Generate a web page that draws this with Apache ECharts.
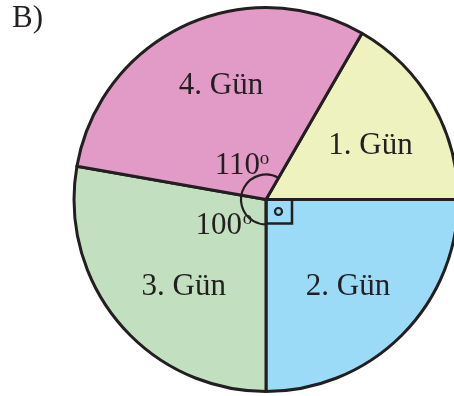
<!DOCTYPE html>
<html>
<head>
<meta charset="utf-8" />
<script src="https://cdn.jsdelivr.net/npm/echarts@6/dist/echarts.min.js" type="text/javascript" charset="utf-8"></script>
<title>B)</title>
<style>html,body{margin:0;padding:0;background:#fff;}</style>
</head>
<body>
<div id="main" style="width:454px;height:396px;"></div>
<script type="text/javascript">
// dilimler (derece)
var days = ['1. Gün', '2. Gün', '3. Gün', '4. Gün'];
var angles = [60, 90, 100, 110];
// merkezde yazan açılar
var angleTexts = ['110', '100'];

var colors = ['#EEF2BE', '#9BDBF7', '#C2E0BF', '#E29BC6'];
// yazıları biraz kaydır (orijinaldeki gibi)
var labelNudge = [[-2, 8], [-5, 0], [12, 8], [7, -2]];
var ink = '#231F20';
var serif = '"Liberation Serif", "Times New Roman", serif';
var cx = 266, cy = 199.5, R = 192;
var startAngle = 60;

var myChart = echarts.init(document.getElementById('main'));

var pieData = days.map(function (d, i) {
  return { name: d, value: angles[i], itemStyle: { color: colors[i] } };
});
var labelData = days.map(function (d, i) {
  return { name: d, value: angles[i], label: { offset: labelNudge[i] } };
});

// açı yayı: 1. Gün'ün üst kenarından 3. Gün'ün alt kenarına kadar
var arcStart = -startAngle * Math.PI / 180;
var arcEnd = -(startAngle - angles[0] - angles[1]) * Math.PI / 180;

var option = {
  animation: false,
  backgroundColor: '#fff',
  series: [{
    type: 'pie',
    center: [cx, cy],
    radius: [0, R],
    startAngle: startAngle,
    clockwise: true,
    silent: true,
    label: { show: false },
    labelLine: { show: false },
    itemStyle: { borderColor: ink, borderWidth: 3 },
    data: pieData
  }, {
    // sadece yazılar için şeffaf halka
    type: 'pie',
    center: [cx, cy],
    radius: [48, R],
    startAngle: startAngle,
    clockwise: true,
    silent: true,
    z: 3,
    itemStyle: { color: 'transparent', borderWidth: 0 },
    label: {
      show: true,
      position: 'inside',
      formatter: '{b}',
      color: ink,
      fontFamily: serif,
      fontSize: 31
    },
    labelLine: { show: false },
    data: labelData
  }],
  graphic: [
    { type: 'text', left: 12, top: 3,
      style: { text: 'B)', fill: ink, font: '31px ' + serif } },
    { type: 'arc', z: 10, silent: true,
      shape: { cx: cx, cy: cy, r: 25, startAngle: arcStart, endAngle: arcEnd, clockwise: false },
      style: { stroke: ink, lineWidth: 2.2, fill: null } },
    { type: 'rect', z: 10, silent: true,
      shape: { x: cx, y: cy, width: 26, height: 24 },
      style: { stroke: ink, lineWidth: 2.5, fill: null } },
    { type: 'circle', z: 10, silent: true,
      shape: { cx: cx + 12.5, cy: cy + 12, r: 3.5 },
      style: { stroke: ink, lineWidth: 2.2, fill: null } },
    { type: 'text', z: 10, silent: true,
      style: { x: cx - 6, y: cy - 34, text: angleTexts[0], fill: ink, font: '31px ' + serif,
        textAlign: 'right', textVerticalAlign: 'middle' } },
    { type: 'text', z: 10, silent: true,
      style: { x: cx - 1.5, y: cy - 40, text: 'o', fill: ink, font: '19px ' + serif,
        textAlign: 'center', textVerticalAlign: 'middle' } },
    { type: 'text', z: 10, silent: true,
      style: { x: cx - 24, y: cy + 26, text: angleTexts[1], fill: ink, font: '31px ' + serif,
        textAlign: 'right', textVerticalAlign: 'middle' } },
    { type: 'text', z: 10, silent: true,
      style: { x: cx - 18.5, y: cy + 20, text: 'o', fill: ink, font: '19px ' + serif,
        textAlign: 'center', textVerticalAlign: 'middle' } }
  ]
};
myChart.setOption(option);
</script>
</body>
</html>
